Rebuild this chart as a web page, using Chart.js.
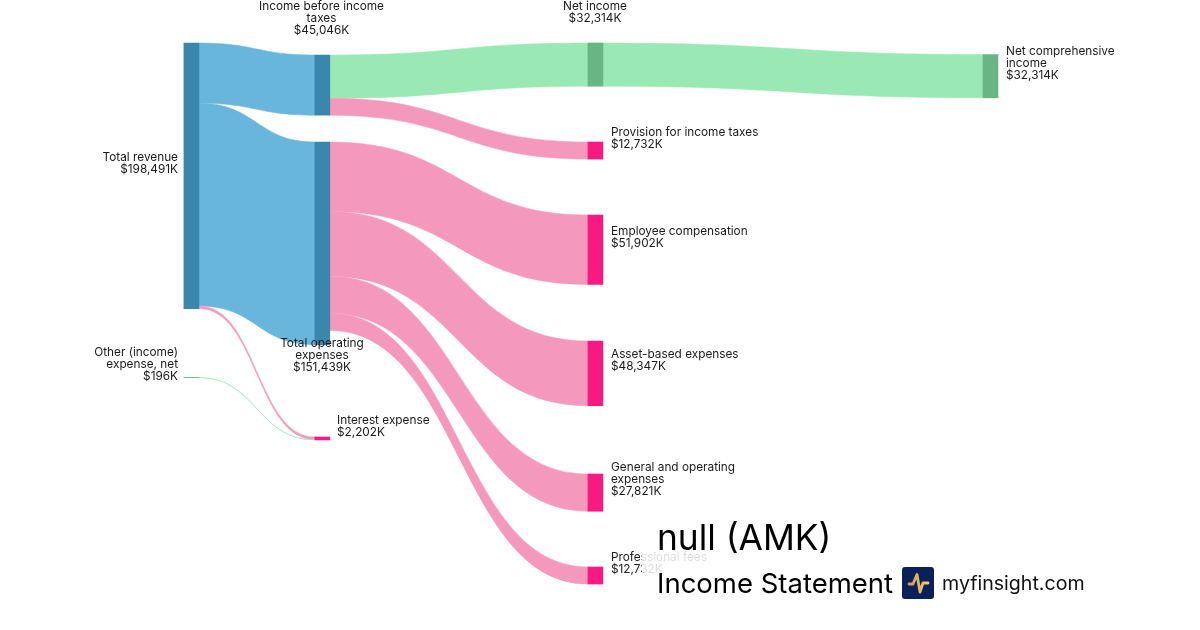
<!DOCTYPE html>
<html><head><meta charset="utf-8">
<style>html,body{margin:0;padding:0;background:#fff}canvas{display:block}</style>
<script src="https://cdn.jsdelivr.net/npm/chart.js@4"></script>
</head><body>
<canvas id="c" width="1200" height="630"></canvas>
<script>
// ---- data ----
const nodeNames = [
  ["Total revenue"],
  ["Income before income","taxes"],
  ["Total operating","expenses"],
  ["Interest expense"],
  ["Other (income)","expense, net"],
  ["Net income"],
  ["Provision for income taxes"],
  ["Employee compensation"],
  ["Asset-based expenses"],
  ["General and operating","expenses"],
  ["Professional fees"],
  ["Net comprehensive","income"]
];
const nodeValues = [198491,45046,151439,2202,196,32314,12732,51902,48347,27821,12732,32314];
const linkSource = [0,0,0,4,1,1,2,2,2,2,5];
const linkTarget = [1,2,3,3,5,6,7,8,9,10,11];
const linkValues = [45046,151439,2006,196,32314,12732,51902,48347,27821,12732,32314];

// ---- layout (separate from the data) ----
const pxPerK = 265.6/198491;
const nodeColumn = [191.4,322.3,322.3,322.3,191.4,595.4,595.4,595.4,595.4,595.4,595.4,990.5];
const nodeTopPx  = [43,55,142,437,377.4,43,142,215,341,474,567,54.6];
const nodeWidth = 15;
const nodeColors = ["#3a87ad","#3a87ad","#3a87ad","#f81a82","#69b584","#69b584","#f81a82","#f81a82","#f81a82","#f81a82","#f81a82","#69b584"];
const linkColors = ["#69b6dc","#69b6dc","#f599bc","#9ae8b3","#9ae8b3","#f599bc","#f599bc","#f599bc","#f599bc","#f599bc","#9ae8b3"];
const labelX     = [178,321.5,322,337,178,595,611,611,611,611,611,1006];
const labelY     = [157,6,343,420,352,6,132,231,354,467,557,51];
const labelAlign = ["right","center","center","left","right","center","left","left","left","left","left","left"];
const FONT = 'Inter, "Noto Sans", sans-serif';

const ribbons = {
  id:'ribbons',
  beforeDatasetsDraw(chart){
    const {ctx, scales:{x,y}} = chart;
    const srcOff = nodeValues.map(()=>0), tgtOff = nodeValues.map(()=>0);
    linkValues.forEach((v,i)=>{
      const s=linkSource[i], t=linkTarget[i];
      const x0=x.getPixelForValue(nodeColumn[s])+nodeWidth/2;
      const x1=x.getPixelForValue(nodeColumn[t])-nodeWidth/2;
      const sTop=nodeTopPx[s]/pxPerK+srcOff[s], tTop=nodeTopPx[t]/pxPerK+tgtOff[t];
      const y0=y.getPixelForValue(sTop), y0b=y.getPixelForValue(sTop+v);
      const y1=y.getPixelForValue(tTop), y1b=y.getPixelForValue(tTop+v);
      srcOff[s]+=v; tgtOff[t]+=v;
      const m=(x0+x1)/2;
      ctx.save();
      ctx.fillStyle=linkColors[i];
      ctx.strokeStyle=linkColors[i];
      ctx.lineWidth=0.5;
      ctx.beginPath();
      ctx.moveTo(x0,y0);
      ctx.bezierCurveTo(m,y0,m,y1,x1,y1);
      ctx.lineTo(x1,y1b);
      ctx.bezierCurveTo(m,y1b,m,y0b,x0,y0b);
      ctx.closePath();
      ctx.fill();
      ctx.stroke();
      ctx.restore();
    });
  }
};

const labels = {
  id:'labels',
  afterDatasetsDraw(chart){
    const {ctx} = chart;
    ctx.save();
    ctx.font='11.8px '+FONT;
    ctx.fillStyle='#1a1a1a';
    ctx.textBaseline='middle';
    nodeNames.forEach((lines,i)=>{
      const all=lines.concat(['$'+nodeValues[i].toLocaleString('en-US')+'K']);
      ctx.textAlign=labelAlign[i];
      all.forEach((t,k)=>ctx.fillText(t,labelX[i],labelY[i]+k*12));
    });
    // translucent backing of the title block
    ctx.fillStyle='rgba(255,255,255,0.85)';
    ctx.fillRect(642,512,458,100);
    ctx.fillStyle='#000';
    ctx.textAlign='left';
    ctx.textBaseline='alphabetic';
    ctx.font='35.3px '+FONT;
    ctx.fillText('null (AMK)',657,550);
    ctx.font='27.5px '+FONT;
    ctx.fillText('Income Statement',657,593);
    ctx.font='19.6px '+FONT;
    ctx.fillStyle='#111';
    ctx.fillText('myfinsight.com',942,590);
    // logo
    ctx.fillStyle='#0b1f58';
    ctx.beginPath();
    ctx.roundRect(902,567,32,32,3);
    ctx.fill();
    const g=ctx.createLinearGradient(908,0,928,0);
    g.addColorStop(0,'#c79a6b');g.addColorStop(1,'#f6cc62');
    ctx.strokeStyle=g;ctx.lineWidth=2.8;ctx.lineCap='round';ctx.lineJoin='round';
    ctx.beginPath();
    ctx.moveTo(909,584);ctx.lineTo(913,584);ctx.lineTo(917,574.5);ctx.lineTo(920,592);ctx.lineTo(923,583);ctx.lineTo(928,583);
    ctx.stroke();
    ctx.restore();
  }
};

new Chart(document.getElementById('c'),{
  type:'bar',
  data:{datasets:[{
    data:nodeValues.map((v,i)=>({x:nodeColumn[i],y:[nodeTopPx[i]/pxPerK,nodeTopPx[i]/pxPerK+v]})),
    backgroundColor:nodeColors,
    borderWidth:0,
    barThickness:nodeWidth,
    grouped:false
  }]},
  options:{
    responsive:false,
    animation:false,
    layout:{padding:0},
    plugins:{legend:{display:false},tooltip:{enabled:false},title:{display:false}},
    scales:{
      x:{type:'linear',min:0,max:1200,display:false,offset:false},
      y:{type:'linear',min:0,max:630/pxPerK,reverse:true,display:false}
    }
  },
  plugins:[ribbons,labels]
});
</script>
</body></html>
